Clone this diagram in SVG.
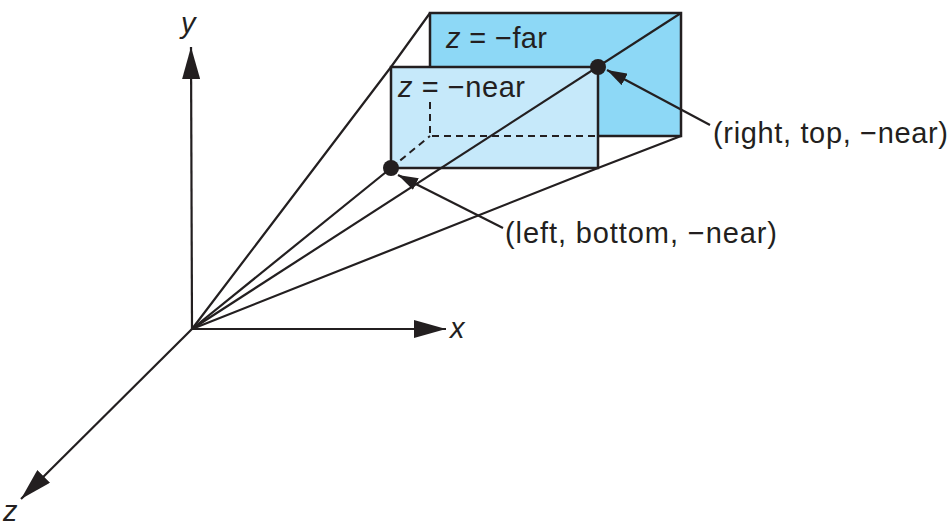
<svg xmlns="http://www.w3.org/2000/svg" width="952" height="530" viewBox="0 0 952 530">
<defs>
<style>
.ln{stroke:#231f20;stroke-width:2.2;fill:none}
.dash{stroke:#231f20;stroke-width:2;fill:none;stroke-dasharray:7 5}
.rect{stroke:#231f20;stroke-width:2.5}
.t{font-family:"Liberation Sans",Arial,sans-serif;font-size:29px;fill:#231f20}
.it{font-style:italic}
</style>
<marker id="big" markerUnits="userSpaceOnUse" markerWidth="32" markerHeight="18" refX="32" refY="9" orient="auto">
<path d="M0,0 L32,9 L0,18 Z" fill="#231f20"/>
</marker>
<marker id="small" markerUnits="userSpaceOnUse" markerWidth="20" markerHeight="13" refX="20" refY="6.5" orient="auto">
<path d="M0,0 L20,6.5 L0,13 Z" fill="#231f20"/>
</marker>
</defs>
<g id="far-plane">
<rect class="rect" x="430" y="13" width="251" height="123" fill="#8dd8f6"/>
<text class="t" x="446" y="48" textLength="101"><tspan class="it">z</tspan> = −far</text>
</g>
<g id="near-plane">
<rect class="rect" x="391" y="67" width="207" height="101" fill="#c6e9fa"/>
<text class="t" x="398" y="97" textLength="127"><tspan class="it">z</tspan> = −near</text>
</g>
<g id="connectors">
<polyline class="dash" points="430,102 430,136 598,136"/>
<line class="dash" x1="391" y1="168" x2="430" y2="136"/>
<polyline class="ln" points="192,329 391,67 430,13"/>
<line class="ln" x1="192" y1="329" x2="681" y2="13"/>
<line class="ln" x1="192" y1="329" x2="391" y2="168"/>
<polyline class="ln" points="192,329 598,168 681,136"/>
<line class="ln" x1="192" y1="329" x2="191" y2="47" marker-end="url(#big)"/>
<line class="ln" x1="192" y1="329" x2="446" y2="329" marker-end="url(#big)"/>
<line class="ln" x1="192" y1="329" x2="21" y2="499" marker-end="url(#big)"/>
<line class="ln" x1="710" y1="125" x2="607" y2="70" marker-end="url(#small)"/>
<line class="ln" x1="503" y1="228" x2="398" y2="175" marker-end="url(#small)"/>
</g>
<g id="corner-right-top">
<circle cx="598" cy="67" r="8" fill="#231f20"/>
<text class="t" x="713" y="143" textLength="235">(right, top, −near)</text>
</g>
<g id="corner-left-bottom">
<circle cx="391" cy="168" r="8" fill="#231f20"/>
<text class="t" x="505" y="243" textLength="272">(left, bottom, −near)</text>
</g>
<g id="axis-labels">
<text class="t it" x="181" y="33">y</text>
<text class="t it" x="450" y="338">x</text>
<text class="t it" x="3" y="521">z</text>
</g>
</svg>
